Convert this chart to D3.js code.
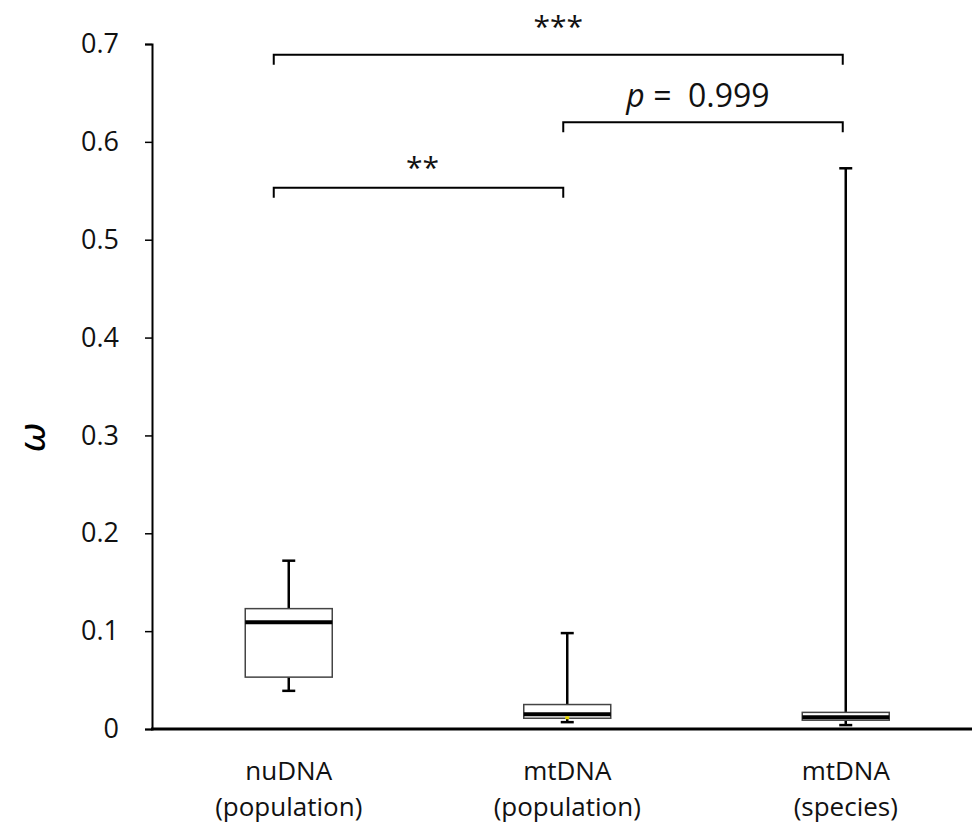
<!DOCTYPE html>
<html>
<head>
<meta charset="utf-8">
<script src="https://cdn.jsdelivr.net/npm/d3@7"></script>
<style>
  body { margin: 0; background: #fff; }
  svg { display: block; }
</style>
</head>
<body>
<script>
// donnees
let categories = ["nuDNA|(population)", "mtDNA|(population)", "mtDNA|(species)"];
let whiskerLow = [0.039, 0.007, 0.004];
let q1 = [0.053, 0.011, 0.009];
let medians = [0.109, 0.015, 0.012];
let q3 = [0.123, 0.025, 0.017];
let whiskerHigh = [0.172, 0.098, 0.573];
let yTicks = [0, 0.1, 0.2, 0.3, 0.4, 0.5, 0.6, 0.7];

// comparaisons (indices des groupes, niveau, texte)
let comparaisons = [
    { a: 0, b: 2, niveau: 0.689, label: "***" },
    { a: 1, b: 2, niveau: 0.620, label: "p" },
    { a: 0, b: 1, niveau: 0.553, label: "**" }
];

let width = 972;
let height = 834;

let svg = d3.select("body").append("svg")
    .attr("width", width)
    .attr("height", height);

let y = d3.scaleLinear().domain([0, 0.7]).range([729, 44]);
let x = d3.scaleBand().domain(categories).range([149.5, 985]);
let cx = d => x(d) + x.bandwidth() / 2;
let boxW = 87;
let capW = 13;

// les crochets sont un peu decales par rapport aux boites
let decalCrochet = [-15, -4, -3];
let decalTexte = { "***": { dx: 0, dy: -18, taille: 30 }, "**": { dx: 4, dy: -10, taille: 30 }, "p": { dx: -5, dy: -15, taille: 32 } };

// axe Y
let axeY = svg.append("g")
    .attr("transform", "translate(152,0)")
    .call(d3.axisLeft(y).tickValues(yTicks).tickSizeOuter(0).tickSize(7)
        .tickFormat(d => d === 0 ? "0" : d3.format(".1f")(d)));
axeY.select(".domain").attr("stroke", "#000").attr("stroke-width", 2);
axeY.selectAll(".tick line").attr("stroke", "#000").attr("stroke-width", 1.5);
axeY.selectAll(".tick text")
    .attr("x", -33)
    .style("font-family", "'Open Sans', sans-serif")
    .style("font-size", "27px")
    .attr("fill", "#111");

// axe X (ligne epaisse)
svg.append("line")
    .attr("x1", 151).attr("x2", 972)
    .attr("y1", y(0)).attr("y2", y(0))
    .attr("stroke", "#000").attr("stroke-width", 3);

// label omega
svg.append("text")
    .attr("transform", "translate(45," + y(0.298) + ") rotate(-90)")
    .attr("text-anchor", "middle")
    .style("font-family", "'DejaVu Sans', sans-serif")
    .style("font-style", "italic")
    .style("font-size", "36px")
    .text("ω");

// boites
let data = categories.map((c, i) => ({
    cat: c, lo: whiskerLow[i], q1: q1[i], med: medians[i], q3: q3[i], hi: whiskerHigh[i]
}));

let boites = svg.append("g").selectAll("g")
    .data(data)
    .enter()
    .append("g")
    .attr("transform", d => "translate(" + cx(d.cat) + ",0)");

boites.append("line")
    .attr("y1", d => y(d.lo)).attr("y2", d => y(d.hi))
    .attr("stroke", "#000").attr("stroke-width", 2.5);

boites.append("line")
    .attr("x1", -capW / 2).attr("x2", capW / 2)
    .attr("y1", d => y(d.hi)).attr("y2", d => y(d.hi))
    .attr("stroke", "#000").attr("stroke-width", 2.5);

boites.append("line")
    .attr("x1", -capW / 2).attr("x2", capW / 2)
    .attr("y1", d => y(d.lo)).attr("y2", d => y(d.lo))
    .attr("stroke", "#000").attr("stroke-width", 2.5);

boites.append("rect")
    .attr("x", -boxW / 2)
    .attr("width", boxW)
    .attr("y", d => y(d.q3))
    .attr("height", d => y(d.q1) - y(d.q3))
    .attr("fill", "#fff")
    .attr("stroke", "#444")
    .attr("stroke-width", 1.5);

boites.append("line")
    .attr("x1", -boxW / 2).attr("x2", boxW / 2)
    .attr("y1", d => y(d.med)).attr("y2", d => y(d.med))
    .attr("stroke", "#000").attr("stroke-width", 4);

// petit point jaune (moyenne) de la 2e boite
svg.append("rect")
    .attr("x", cx(categories[1]) - 2).attr("y", y(0.012) - 1)
    .attr("width", 4).attr("height", 3)
    .attr("fill", "#e8d800");

// labels des categories : deux lignes separees pour ne pas se chevaucher
let lignes = [0, 1];
let labels = svg.append("g").selectAll("g")
    .data(categories)
    .enter()
    .append("g");
lignes.forEach(function(k) {
    labels.append("text")
        .attr("x", d => cx(d))
        .attr("y", 780 + k * 36)
        .attr("text-anchor", "middle")
        .style("font-family", "'Open Sans', sans-serif")
        .style("font-size", "26px")
        .attr("fill", "#111")
        .text(d => d.split("|")[k]);
});

// crochets de signification
let bx = i => cx(categories[i]) + decalCrochet[i];

let crochets = svg.append("g").selectAll("g")
    .data(comparaisons)
    .enter()
    .append("g");

crochets.append("path")
    .attr("d", d => {
        let x1 = bx(d.a), x2 = bx(d.b), yy = y(d.niveau);
        return "M" + x1 + "," + (yy + 10) + "V" + yy + "H" + x2 + "V" + (yy + 10);
    })
    .attr("fill", "none")
    .attr("stroke", "#000")
    .attr("stroke-width", 2);

crochets.append("text")
    .attr("x", d => (bx(d.a) + bx(d.b)) / 2 + decalTexte[d.label].dx)
    .attr("y", d => y(d.niveau) + decalTexte[d.label].dy)
    .attr("text-anchor", "middle")
    .style("font-family", "'Open Sans', sans-serif")
    .style("font-size", d => decalTexte[d.label].taille + "px")
    .attr("fill", "#111")
    .each(function(d) {
        let t = d3.select(this);
        if (d.label === "p") {
            t.append("tspan").style("font-style", "italic").text("p");
            t.append("tspan").text(" =\u00a0 0.999");
        } else {
            t.text(d.label);
        }
    });
</script>
</body>
</html>
